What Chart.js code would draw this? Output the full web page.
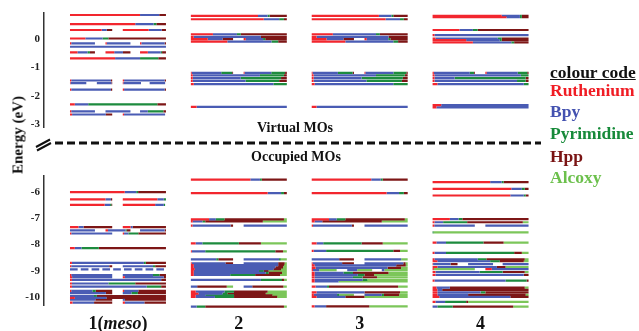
<!DOCTYPE html>
<html lang="en">
<head>
    <meta charset="UTF-8">
    <title>MO energy levels</title>
    <script src="https://cdn.jsdelivr.net/npm/chart.js"></script>
    <style>
        html, body {
            margin: 0;
            padding: 0;
            background: #ffffff;
        }
        body {
            width: 639px;
            height: 331px;
            position: relative;
            overflow: hidden;
            font-family: 'Liberation Serif', 'Times New Roman', serif;
            font-weight: bold;
        }
        #top-chart { position: absolute; left: 0; top: 0; }
        #bottom-chart { position: absolute; left: 0; top: 165px; }
        .ylabel {
            position: absolute;
            left: 18px;
            top: 135px;
            transform: translate(-50%, -50%) rotate(-90deg);
            font-size: 15px;
            white-space: nowrap;
            color: #111;
        }
        .legend span {
            position: absolute;
            left: 550px;
            font-size: 17.5px;
            line-height: 17.5px;
            white-space: nowrap;
        }
    </style>
</head>
<body>
    <canvas id="top-chart" width="639" height="165"></canvas>
    <canvas id="bottom-chart" width="639" height="166"></canvas>

    <div class="ylabel">Energy (eV)</div>

    <div class="legend">
        <span style="top:64px; color:#111; text-decoration:underline;">colour code</span>
        <span style="top:82px; color:#f01c24;">Ruthenium</span>
        <span style="top:103px; color:#4452b0;">Bpy</span>
        <span style="top:124.5px; color:#178a3a;">Pyrimidine</span>
        <span style="top:147.5px; color:#7a1414;">Hpp</span>
        <span style="top:169px; color:#6cc04c;">Alcoxy</span>
    </div>

    <script>
        // fragments, in the order they are laid along each level
        const fragments = ['Ruthenium', 'Bpy', 'Pyrimidine', 'Hpp', 'Alcoxy'];
        const compounds = ['1(meso)', '2', '3', '4'];
        const virtualTicks = [0, -1, -2, -3];
        const occupiedTicks = [-6, -7, -8, -9, -10];

        // each level: [energy eV, slot, %Ru, %Bpy, %Pyr, %Hpp, %Alcoxy]
        // slot: 0 full, 1/2 halves, 3/4/5 thirds, 6 dashed, 7-10 quarters
        const virt1 = [
            [0.85, 0, 73, 20, 0, 7, 0],
            [0.53, 0, 68, 19, 3, 10, 0],
            [0.32, 1, 75, 12, 0, 13, 0], [0.32, 2, 60, 30, 0, 10, 0],
            [0.02, 0, 16, 18, 6, 60, 0],
            [-0.15, 3, 5, 95, 0, 0, 0], [-0.15, 4, 5, 95, 0, 0, 0], [-0.15, 5, 5, 90, 0, 5, 0],
            [-0.27, 0, 0, 100, 0, 0, 0],
            [-0.47, 3, 30, 40, 10, 20, 0], [-0.47, 4, 35, 35, 0, 30, 0], [-0.47, 5, 30, 50, 5, 15, 0],
            [-0.68, 0, 47, 26, 19, 8, 0],
            [-1.46, 1, 3, 94, 0, 3, 0], [-1.46, 2, 3, 94, 0, 3, 0],
            [-1.55, 7, 3, 97, 0, 0, 0], [-1.55, 8, 0, 95, 0, 5, 0], [-1.55, 9, 3, 97, 0, 0, 0], [-1.55, 10, 0, 95, 0, 5, 0],
            [-1.78, 1, 3, 94, 0, 3, 0], [-1.78, 2, 3, 94, 0, 3, 0],
            [-2.30, 0, 5, 14, 72, 9, 0],
            [-2.55, 3, 5, 95, 0, 0, 0], [-2.55, 4, 0, 100, 0, 0, 0], [-2.55, 5, 0, 30, 60, 10, 0],
            [-2.66, 1, 5, 80, 0, 15, 0], [-2.66, 2, 3, 95, 0, 2, 0]
        ];
        const occ1 = [
            [-6.00, 0, 57, 12, 2, 29, 0],
            [-6.28, 1, 84, 13, 0, 3, 0], [-6.28, 2, 80, 15, 5, 0, 0],
            [-6.49, 1, 82, 13, 3, 2, 0], [-6.49, 2, 75, 20, 3, 2, 0],
            [-7.34, 1, 20, 12, 0, 68, 0], [-7.34, 2, 18, 5, 0, 77, 0],
            [-7.46, 3, 0, 100, 0, 0, 0], [-7.46, 4, 10, 70, 5, 15, 0], [-7.46, 5, 0, 95, 0, 5, 0],
            [-7.58, 1, 3, 97, 0, 0, 0], [-7.58, 2, 3, 10, 23, 64, 0],
            [-8.14, 0, 5, 7, 18, 70, 0],
            [-8.70, 0, 2, 75, 2, 21, 0],
            [-8.83, 1, 3, 90, 0, 7, 0], [-8.83, 2, 0, 70, 5, 25, 0],
            [-8.95, 6, 0, 100, 0, 0, 0],
            [-9.17, 1, 3, 97, 0, 0, 0], [-9.17, 2, 0, 70, 15, 15, 0],
            [-9.25, 1, 5, 95, 0, 0, 0], [-9.25, 2, 5, 90, 0, 5, 0],
            [-9.35, 0, 2, 93, 0, 5, 0],
            [-9.49, 0, 2, 38, 28, 32, 0],
            [-9.61, 0, 2, 78, 15, 5, 0],
            [-9.77, 1, 3, 50, 8, 39, 0], [-9.77, 2, 3, 33, 0, 64, 0],
            [-9.86, 1, 0, 85, 0, 15, 0], [-9.86, 2, 0, 20, 15, 65, 0],
            [-9.97, 0, 0, 25, 3, 72, 0],
            [-10.04, 0, 5, 33, 0, 62, 0],
            [-10.11, 1, 0, 60, 0, 40, 0], [-10.11, 2, 0, 5, 0, 95, 0],
            [-10.22, 1, 6, 51, 0, 43, 0], [-10.22, 2, 5, 45, 0, 50, 0]
        ];
        const virt2 = [
            [0.82, 0, 70, 10, 2, 18, 0],
            [0.70, 0, 76, 16, 5, 3, 0],
            [0.17, 0, 23, 25, 4, 48, 0],
            [0.08, 0, 3, 70, 0, 27, 0],
            [0.00, 1, 40, 35, 0, 25, 0], [0.00, 2, 5, 40, 5, 50, 0],
            [-0.09, 0, 38, 46, 7, 9, 0],
            [-1.19, 1, 2, 70, 26, 2, 0], [-1.19, 2, 2, 62, 32, 4, 0],
            [-1.28, 0, 2, 70, 25, 3, 0],
            [-1.38, 0, 2, 50, 42, 6, 0],
            [-1.47, 0, 2, 55, 35, 8, 0],
            [-1.59, 0, 3, 83, 14, 0, 0],
            [-2.39, 0, 6, 94, 0, 0, 0]
        ];
        const occ2 = [
            [-5.52, 0, 62, 10, 2, 26, 0],
            [-6.04, 0, 80, 14, 3, 3, 0],
            [-7.04, 0, 19, 7, 9, 62, 3],
            [-7.12, 0, 2, 10, 3, 60, 25],
            [-7.28, 1, 4, 90, 0, 6, 0], [-7.28, 2, 0, 100, 0, 0, 0],
            [-7.96, 0, 5, 7, 38, 23, 27],
            [-8.26, 0, 1, 14, 73, 8, 4],
            [-8.57, 1, 0, 60, 5, 35, 0], [-8.57, 2, 0, 82, 4, 0, 14],
            [-8.72, 1, 2, 80, 0, 18, 0], [-8.72, 2, 0, 80, 0, 15, 5],
            [-8.79, 0, 3, 88, 0, 6, 3],
            [-8.87, 0, 3, 85, 0, 8, 4],
            [-8.94, 0, 4, 82, 0, 8, 6],
            [-9.01, 0, 3, 68, 5, 5, 19],
            [-9.08, 0, 3, 75, 3, 14, 5],
            [-9.16, 0, 3, 38, 26, 26, 7],
            [-9.35, 0, 0, 73, 22, 2, 3],
            [-9.61, 1, 0, 15, 0, 70, 15], [-9.61, 2, 0, 20, 0, 72, 8],
            [-9.80, 0, 5, 30, 10, 35, 20],
            [-9.88, 0, 8, 25, 5, 40, 22],
            [-9.94, 0, 5, 10, 30, 40, 15],
            [-10.00, 0, 5, 20, 20, 45, 10],
            [-10.37, 0, 0, 6, 9, 82, 3]
        ];
        const virt3 = [
            [0.82, 0, 70, 13, 2, 15, 0],
            [0.70, 0, 77, 15, 4, 4, 0],
            [0.17, 0, 22, 45, 4, 29, 0],
            [0.08, 0, 5, 75, 0, 20, 0],
            [0.00, 1, 35, 40, 0, 25, 0], [0.00, 2, 5, 50, 5, 40, 0],
            [-0.09, 0, 35, 50, 5, 10, 0],
            [-1.19, 1, 2, 60, 35, 3, 0], [-1.19, 2, 2, 65, 30, 3, 0],
            [-1.28, 0, 2, 65, 30, 3, 0],
            [-1.38, 0, 2, 50, 43, 5, 0],
            [-1.47, 0, 2, 55, 37, 6, 0],
            [-1.59, 0, 3, 82, 15, 0, 0],
            [-2.39, 0, 5, 95, 0, 0, 0]
        ];
        const occ3 = [
            [-5.52, 0, 62, 10, 2, 26, 0],
            [-6.04, 0, 78, 13, 5, 4, 0],
            [-7.04, 0, 18, 8, 9, 62, 3],
            [-7.12, 0, 3, 8, 0, 62, 27],
            [-7.28, 1, 3, 92, 0, 5, 0], [-7.28, 2, 0, 100, 0, 0, 0],
            [-7.96, 0, 5, 7, 40, 22, 26],
            [-8.24, 0, 2, 13, 70, 7, 8],
            [-8.57, 1, 0, 65, 0, 35, 0], [-8.57, 2, 0, 85, 0, 0, 15],
            [-8.72, 1, 2, 70, 0, 28, 0], [-8.72, 2, 0, 90, 0, 5, 5],
            [-8.80, 0, 3, 85, 0, 10, 2],
            [-8.89, 0, 4, 75, 0, 14, 7],
            [-8.98, 3, 5, 25, 0, 0, 70], [-8.98, 4, 0, 40, 0, 0, 60], [-8.98, 5, 0, 10, 0, 0, 90],
            [-9.08, 0, 3, 30, 10, 37, 20],
            [-9.16, 0, 3, 45, 7, 10, 35],
            [-9.25, 0, 3, 40, 10, 15, 32],
            [-9.35, 0, 3, 50, 5, 0, 42],
            [-9.41, 0, 3, 25, 0, 0, 72],
            [-9.61, 0, 4, 12, 2, 72, 10],
            [-9.83, 0, 5, 50, 0, 37, 8],
            [-9.92, 1, 5, 55, 5, 0, 35], [-9.92, 2, 0, 40, 5, 35, 20],
            [-10.00, 0, 5, 30, 0, 20, 45],
            [-10.36, 0, 3, 12, 0, 45, 40]
        ];
        const virt4 = [
            [0.82, 0, 72, 19, 2, 7, 0],
            [0.77, 0, 77, 14, 2, 7, 0],
            [0.32, 0, 28, 14, 5, 53, 0],
            [0.14, 0, 2, 98, 0, 0, 0],
            [0.02, 0, 3, 65, 4, 28, 0],
            [-0.04, 0, 35, 35, 2, 28, 0],
            [-0.12, 0, 42, 40, 3, 15, 0],
            [-1.19, 1, 3, 85, 10, 2, 0], [-1.19, 2, 3, 72, 22, 3, 0],
            [-1.28, 0, 2, 90, 8, 0, 0],
            [-1.38, 0, 2, 21, 74, 3, 0],
            [-1.47, 0, 2, 86, 9, 3, 0],
            [-1.59, 0, 5, 90, 5, 0, 0],
            [-2.33, 0, 9, 91, 0, 0, 0],
            [-2.41, 0, 4, 96, 0, 0, 0]
        ];
        const occ4 = [
            [-5.62, 0, 60, 12, 2, 26, 0],
            [-5.88, 0, 82, 11, 3, 4, 0],
            [-6.13, 0, 81, 14, 2, 3, 0],
            [-7.03, 0, 18, 9, 4, 69, 0],
            [-7.15, 0, 2, 9, 25, 58, 6],
            [-7.28, 1, 4, 96, 0, 0, 0], [-7.28, 2, 0, 100, 0, 0, 0],
            [-7.54, 0, 0, 0, 1, 0, 99],
            [-7.93, 0, 4, 10, 39, 21, 26],
            [-8.32, 0, 2, 12, 71, 8, 7],
            [-8.57, 0, 2, 45, 9, 40, 4],
            [-8.64, 0, 5, 55, 10, 25, 5],
            [-8.75, 3, 2, 70, 0, 28, 0], [-8.75, 4, 0, 100, 0, 0, 0], [-8.75, 5, 0, 100, 0, 0, 0],
            [-8.86, 0, 5, 62, 0, 9, 24],
            [-8.94, 1, 3, 0, 0, 0, 97], [-8.94, 2, 15, 85, 0, 0, 0],
            [-9.05, 0, 3, 46, 24, 23, 4],
            [-9.16, 0, 3, 92, 0, 5, 0],
            [-9.38, 0, 2, 74, 22, 2, 0],
            [-9.65, 0, 4, 14, 0, 78, 4],
            [-9.73, 0, 5, 5, 0, 90, 0],
            [-9.83, 0, 5, 45, 5, 45, 0],
            [-9.92, 0, 5, 32, 0, 60, 3],
            [-10.00, 0, 7, 74, 0, 19, 0],
            [-10.19, 0, 3, 10, 22, 2, 63],
            [-10.37, 0, 0, 5, 16, 63, 16]
        ];

        // styles and layout
        const fragColors = ['#f2262e', '#4a5cb4', '#1d8b3e', '#7d1616', '#7cc65a'];
        const slotSpans = [
            [0, 1], [0, 0.44], [0.55, 1], [0, 0.26], [0.37, 0.63], [0.73, 1], [0, 1],
            [0, 0.17], [0.28, 0.44], [0.55, 0.74], [0.83, 1]
        ];
        const DASHED = 6;
        const dashPieces = [];
        for (let k = 0; k < 9; k++) dashPieces.push([k * 0.1125, k * 0.1125 + 0.08]);
        const halfWidth = 0.397;
        const serif = "'Liberation Serif', 'Times New Roman', serif";

        function buildSets(columns) {
            const pts = fragments.map(() => []);
            columns.forEach((levels, c) => {
                const x0 = c + 1 - halfWidth;
                const W = 2 * halfWidth;
                levels.forEach(lv => {
                    const e = lv[0], slot = lv[1], share = lv.slice(2);
                    const total = share.reduce((a, b) => a + b, 0);
                    const pieces = slot === DASHED ? dashPieces : [slotSpans[slot]];
                    pieces.forEach(([s0, s1]) => {
                        let cum = 0;
                        share.forEach((v, f) => {
                            if (v <= 0) return;
                            const a = x0 + W * (s0 + (s1 - s0) * cum / total);
                            cum += v;
                            const b = x0 + W * (s0 + (s1 - s0) * cum / total);
                            pts[f].push({x: a, y: e}, {x: b, y: e}, {x: b, y: null});
                        });
                    });
                });
            });
            return fragments.map((name, f) => ({
                label: name,
                data: pts[f],
                showLine: true,
                spanGaps: false,
                borderColor: fragColors[f],
                backgroundColor: fragColors[f],
                borderWidth: 2.2,
                borderCapStyle: 'butt',
                pointRadius: 0,
                tension: 0,
                clip: false
            }));
        }

        function yScale(min, max, tickValues) {
            return {
                min: min,
                max: max,
                afterBuildTicks: s => { s.ticks = tickValues.map(v => ({value: v})); },
                afterFit: s => { s.width = 44; },
                grid: {display: false, drawTicks: false},
                border: {display: true, color: '#333', width: 1.5},
                ticks: {
                    padding: 4,
                    color: '#222',
                    font: {family: serif, weight: 'bold', size: 11}
                }
            };
        }

        const baseOptions = {
            responsive: false,
            animation: false,
            events: [],
            plugins: {legend: {display: false}, tooltip: {enabled: false}}
        };

        // dashed break line, break marks and the two region titles
        const breakPlugin = {
            id: 'breakMarks',
            afterDraw(chart) {
                const ctx = chart.ctx;
                ctx.save();
                ctx.strokeStyle = '#111';
                ctx.lineWidth = 3;
                ctx.setLineDash([8, 4]);
                ctx.beginPath();
                ctx.moveTo(55, 143);
                ctx.lineTo(541, 143);
                ctx.stroke();
                ctx.setLineDash([]);
                ctx.lineWidth = 2;
                ctx.beginPath();
                ctx.moveTo(36, 147); ctx.lineTo(50, 139.5);
                ctx.moveTo(37, 150.5); ctx.lineTo(51, 143);
                ctx.stroke();
                ctx.fillStyle = '#111';
                ctx.font = 'bold 14px ' + serif;
                ctx.textAlign = 'center';
                ctx.textBaseline = 'alphabetic';
                ctx.fillText('Virtual MOs', 295, 131.5);
                ctx.fillText('Occupied MOs', 296, 161);
                ctx.restore();
            }
        };

        // compound names under the columns, with the part in brackets in italics
        const namePlugin = {
            id: 'compoundNames',
            afterDraw(chart) {
                const ctx = chart.ctx;
                const xs = chart.scales.x;
                const base = chart.chartArea.bottom + 24;
                ctx.save();
                ctx.fillStyle = '#111';
                ctx.textBaseline = 'alphabetic';
                ctx.textAlign = 'left';
                compounds.forEach((name, i) => {
                    const m = name.match(/^(.*\()(.*)(\).*)$/);
                    const parts = m ? [[m[1], false], [m[2], true], [m[3], false]] : [[name, false]];
                    const fonts = parts.map(p => (p[1] ? 'italic ' : '') + 'bold 18px ' + serif);
                    let w = 0;
                    parts.forEach((p, k) => { ctx.font = fonts[k]; w += ctx.measureText(p[0]).width; });
                    let x = xs.getPixelForValue(i + 1) - w / 2;
                    parts.forEach((p, k) => {
                        ctx.font = fonts[k];
                        ctx.fillText(p[0], x, base);
                        x += ctx.measureText(p[0]).width;
                    });
                });
                ctx.restore();
            }
        };

        new Chart(document.getElementById('top-chart'), {
            type: 'scatter',
            data: {datasets: buildSets([virt1, virt2, virt3, virt4])},
            options: {
                ...baseOptions,
                layout: {padding: {top: 13, bottom: 38, left: 0, right: 98}},
                scales: {
                    x: {type: 'linear', min: 0.388, max: 4.5, display: false},
                    y: yScale(-3.1, 0.92, virtualTicks)
                }
            },
            plugins: [breakPlugin]
        });

        new Chart(document.getElementById('bottom-chart'), {
            type: 'scatter',
            data: {datasets: buildSets([occ1, occ2, occ3, occ4])},
            options: {
                ...baseOptions,
                layout: {padding: {top: 3, bottom: 26, left: 0, right: 98}},
                scales: {
                    x: {type: 'linear', min: 0.388, max: 4.5, display: false},
                    y: yScale(-10.31, -5.37, occupiedTicks)
                }
            },
            plugins: [namePlugin]
        });
    </script>
</body>
</html>
